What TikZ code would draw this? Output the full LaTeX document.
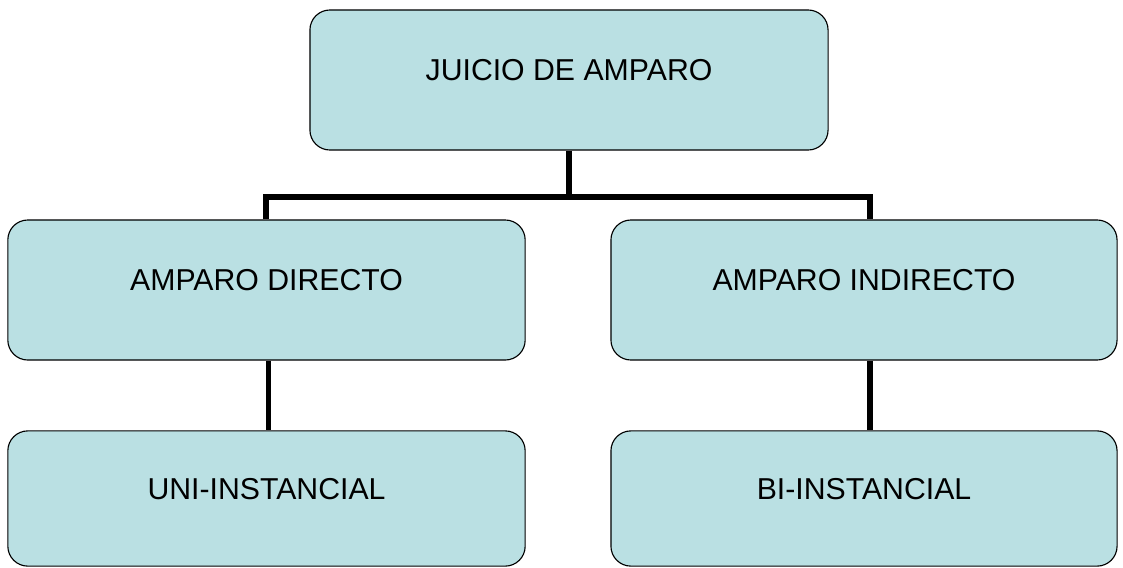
\documentclass[tikz,border=0pt]{standalone}
\usepackage{fontspec}
\setmainfont{Liberation Sans}
\definecolor{boxfill}{HTML}{BAE0E3}

\begin{document}
\begin{tikzpicture}[x=0.025cm, y=-0.025cm,
            box/.style={rectangle, draw, line width=0.8pt, rounded corners=0.5cm, fill=boxfill, text centered, font=\fontsize{21.5}{24}\selectfont, text depth=0.5cm},
            link/.style={line width=3.6pt}
            ]
            \useasboundingbox (0,0) rectangle (1123,567);

            % Main node
            \node[box, minimum width=12.95cm, minimum height=3.5cm] (juicio) at (569,80) {JUICIO DE AMPARO};

            % Types of amparo
            \node[box, minimum width=12.93cm, minimum height=3.5cm] (directo) at (266.5,290) {AMPARO DIRECTO};
            \node[box, minimum width=12.65cm, minimum height=3.5cm] (indirecto) at (864,290) {AMPARO INDIRECTO};

            % Instances
            \node[box, minimum width=12.93cm, minimum height=3.38cm] (uni) at (266.5,498.5) {UNI-INSTANCIAL};
            \node[box, minimum width=12.65cm, minimum height=3.38cm] (bi) at (864,498.5) {BI-INSTANCIAL};

            % Connectors
            \coordinate (split) at (569,197);
            \coordinate (leftdrop) at (266,197);
            \coordinate (rightdrop) at (870,197);
            \draw[link] (juicio.south) -- (split);
            \draw[link] (directo.north -| leftdrop) -- (leftdrop) -- (rightdrop) -- (indirecto.north -| rightdrop);
            \draw[link] ([xshift=0.04cm]directo.south) -- ([xshift=0.04cm]uni.north);
            \draw[link] (indirecto.south -| rightdrop) -- (bi.north -| rightdrop);

        \end{tikzpicture}
\end{document}
